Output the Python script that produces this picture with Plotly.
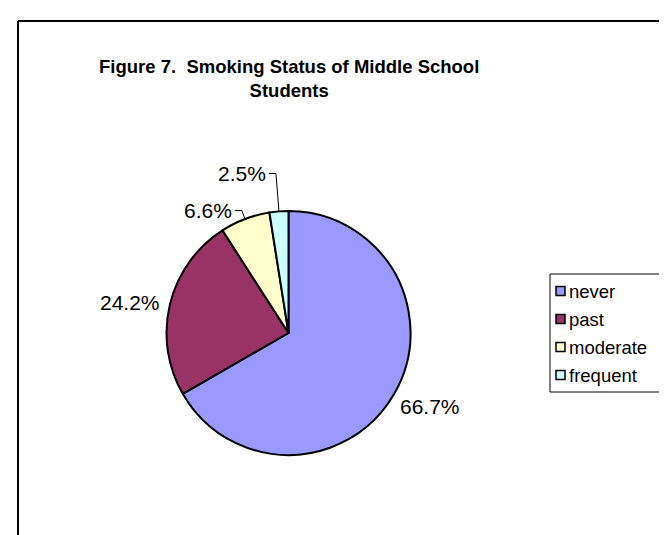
import math
import plotly.graph_objects as go

# ---- data ----
categories = ["never", "past", "moderate", "frequent"]
values = [66.7, 24.2, 6.6, 2.5]
colors = ["#9999FF", "#993366", "#FFFFCC", "#CCFFFF"]
title_lines = ["Figure 7.  Smoking Status of Middle School", "Students"]

# ---- layout geometry (pixels) ----
W, H = 667, 535
cx, cy, r = 280.5, 325.0, 122.0
# per-slice label placement: (radial distance, leader line?)
label_style = [(127, False), (130, False), (131, True), (160, True)]
FONT = "Liberation Sans, Arial"
# legend box geometry
LEG_X0, LEG_X1, LEG_Y0, LEG_Y1 = 542, 655, 266, 384
LEG_FIRST, LEG_STEP, SYM = 283, 28, 9

def px(x):
    return x / W

def py(y):
    return 1 - y / H

fig = go.Figure()
fig.add_trace(go.Pie(
    labels=categories,
    values=values,
    sort=False,
    direction="clockwise",
    rotation=0,
    marker=dict(colors=colors, line=dict(color="black", width=2)),
    textinfo="none",
    hoverinfo="label+percent",
    domain=dict(x=[px(cx - r), px(cx + r)], y=[py(cy + r), py(cy - r)]),
    showlegend=False,
))

annotations = []
shapes = []
total = sum(values)
cum = 0.0
for v, (R, leader) in zip(values, label_style):
    mid = (cum + v / 2) / total * 2 * math.pi
    cum += v
    s, c = math.sin(mid), math.cos(mid)
    text = f"{v:.1f}%"
    if leader:
        x1, y1 = cx + r * s, cy - r * c
        x2, y2 = cx + R * s, cy - R * c
        x3 = x2 - 7
        shapes.append(dict(type="path", xref="paper", yref="paper",
                           path=f"M {px(x1)} {py(y1)} L {px(x2)} {py(y2)} L {px(x3)} {py(y2)}",
                           line=dict(color="black", width=1)))
        annotations.append(dict(x=px(x3 - 1), y=py(y2), xref="paper", yref="paper",
                                text=text, showarrow=False, xanchor="right", yanchor="middle",
                                font=dict(size=21, color="black", family=FONT)))
    else:
        x2, y2 = cx + R * s, cy - R * c
        xa = "left" if s > 0 else "right"
        ya = "top" if c < -0.3 else ("bottom" if c > 0.3 else "middle")
        if ya == "top":
            y2 -= 4
        annotations.append(dict(x=px(x2), y=py(y2), xref="paper", yref="paper",
                                text=text, showarrow=False, xanchor=xa, yanchor=ya,
                                font=dict(size=21, color="black", family=FONT)))

# title
annotations.append(dict(x=px(cx), y=py(46), xref="paper", yref="paper",
                        text="<b>" + "<br>".join(title_lines) + "</b>", showarrow=False,
                        xanchor="center", yanchor="top", align="center",
                        font=dict(size=18.5, color="black", family=FONT)))

# legend (box, swatches, labels built from categories/colors)
shapes.append(dict(type="rect", xref="paper", yref="paper",
                   x0=px(LEG_X0), x1=px(LEG_X1), y0=py(LEG_Y1), y1=py(LEG_Y0),
                   line=dict(color="black", width=1), fillcolor="white", layer="below"))
for i, (cat, col) in enumerate(zip(categories, colors)):
    yc = LEG_FIRST + i * LEG_STEP
    shapes.append(dict(type="rect", xref="paper", yref="paper",
                       x0=px(LEG_X0 + 6), x1=px(LEG_X0 + 6 + SYM),
                       y0=py(yc + SYM / 2), y1=py(yc - SYM / 2),
                       line=dict(color="black", width=1.5), fillcolor=col))
    annotations.append(dict(x=px(LEG_X0 + 6 + SYM + 2), y=py(yc), xref="paper", yref="paper",
                            text=cat, showarrow=False, xanchor="left", yanchor="middle",
                            font=dict(size=18.5, color="black", family=FONT)))

# chart border (left and top visible)
shapes.append(dict(type="line", xref="paper", yref="paper", x0=px(10), y0=py(13), x1=px(667), y1=py(13),
                   line=dict(color="black", width=2)))
shapes.append(dict(type="line", xref="paper", yref="paper", x0=px(10), y0=py(13), x1=px(10), y1=py(535),
                   line=dict(color="black", width=2)))

fig.update_layout(
    width=W, height=H,
    margin=dict(l=0, r=0, t=0, b=0),
    paper_bgcolor="white", plot_bgcolor="white",
    annotations=annotations,
    shapes=shapes,
    showlegend=False,
    font=dict(family=FONT),
)

fig.write_html("out.html")
